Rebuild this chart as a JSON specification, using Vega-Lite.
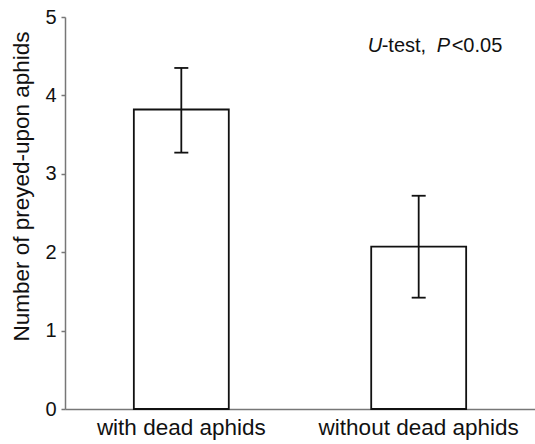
{
  "$schema": "https://vega.github.io/schema/vega-lite/v6.json",
  "width": 470,
  "height": 392,
  "autosize": {"type": "none"},
  "padding": {"left": 65, "top": 17, "right": 0, "bottom": 35},
  "background": "white",
  "config": {
    "view": {"stroke": null},
    "font": "Liberation Sans",
    "axis": {"labelFont": "Liberation Sans", "titleFont": "Liberation Sans", "grid": false}
  },
  "data": {
    "values": [
      {"group": "with dead aphids", "mean": 3.82, "lo": 3.27, "hi": 4.35},
      {"group": "without dead aphids", "mean": 2.07, "lo": 1.42, "hi": 2.72}
    ]
  },
  "encoding": {
    "x": {
      "field": "group", "type": "nominal", "sort": null,
      "scale": {"paddingInner": 0.6, "paddingOuter": 0.29},
      "axis": {
        "title": null, "labelAngle": 0, "ticks": false, "labelPadding": 7, "labelLimit": 0,
        "labelFontSize": 22.5, "labelColor": "#111", "domainColor": "#777", "domainWidth": 1.5
      }
    }
  },
  "layer": [
    {
      "mark": {"type": "bar", "fill": "white", "stroke": "#111", "strokeWidth": 1.8},
      "encoding": {
        "y": {
          "field": "mean", "type": "quantitative",
          "scale": {"domain": [0, 5], "nice": false},
          "axis": {
            "title": "Number of preyed-upon aphids", "titleFontSize": 22.5, "titleFontWeight": "normal",
            "titleColor": "#111", "titlePadding": 11, "titleY": 169,
            "values": [0, 1, 2, 3, 4, 5], "format": "d",
            "labelFontSize": 20, "labelColor": "#111", "labelPadding": 5,
            "tickSize": 4, "tickColor": "#777", "tickWidth": 1.5,
            "domainColor": "#777", "domainWidth": 1.5
          }
        }
      }
    },
    {
      "mark": {"type": "rule", "stroke": "#111", "strokeWidth": 1.8},
      "encoding": {
        "y": {"field": "lo", "type": "quantitative"},
        "y2": {"field": "hi"}
      }
    },
    {
      "mark": {"type": "tick", "orient": "horizontal", "color": "#111", "size": 14, "thickness": 1.8, "opacity": 1},
      "encoding": {"y": {"field": "lo", "type": "quantitative"}}
    },
    {
      "mark": {"type": "tick", "orient": "horizontal", "color": "#111", "size": 14, "thickness": 1.8, "opacity": 1},
      "encoding": {"y": {"field": "hi", "type": "quantitative"}}
    },
    {
      "data": {
        "values": [
          {"group": "without dead aphids", "yv": 4.55, "txt": "U"},
          {"group": "without dead aphids", "yv": 4.55, "txt": "P"}
        ]
      },
      "layer": [
        {"transform": [{"filter": "datum.txt == 'U'"}], "mark": {"type": "text", "align": "left", "baseline": "alphabetic", "fontSize": 20, "fontStyle": "italic", "color": "#111", "dx": -51}},
        {"transform": [{"filter": "datum.txt == 'P'"}], "mark": {"type": "text", "align": "left", "baseline": "alphabetic", "fontSize": 20, "fontStyle": "italic", "color": "#111", "dx": 18}}
      ],
      "encoding": {
        "x": {"field": "group", "type": "nominal", "sort": null},
        "y": {"field": "yv", "type": "quantitative"},
        "text": {"field": "txt"}
      }
    },
    {
      "data": {
        "values": [
          {"group": "without dead aphids", "yv": 4.55, "txt": "-test,"},
          {"group": "without dead aphids", "yv": 4.55, "txt": "<0.05"}
        ]
      },
      "layer": [
        {"transform": [{"filter": "datum.txt == '-test,'"}], "mark": {"type": "text", "align": "left", "baseline": "alphabetic", "fontSize": 20, "color": "#111", "dx": -37}},
        {"transform": [{"filter": "datum.txt == '<0.05'"}], "mark": {"type": "text", "align": "left", "baseline": "alphabetic", "fontSize": 20, "color": "#111", "dx": 33}}
      ],
      "encoding": {
        "x": {"field": "group", "type": "nominal", "sort": null},
        "y": {"field": "yv", "type": "quantitative"},
        "text": {"field": "txt"}
      }
    }
  ]
}
